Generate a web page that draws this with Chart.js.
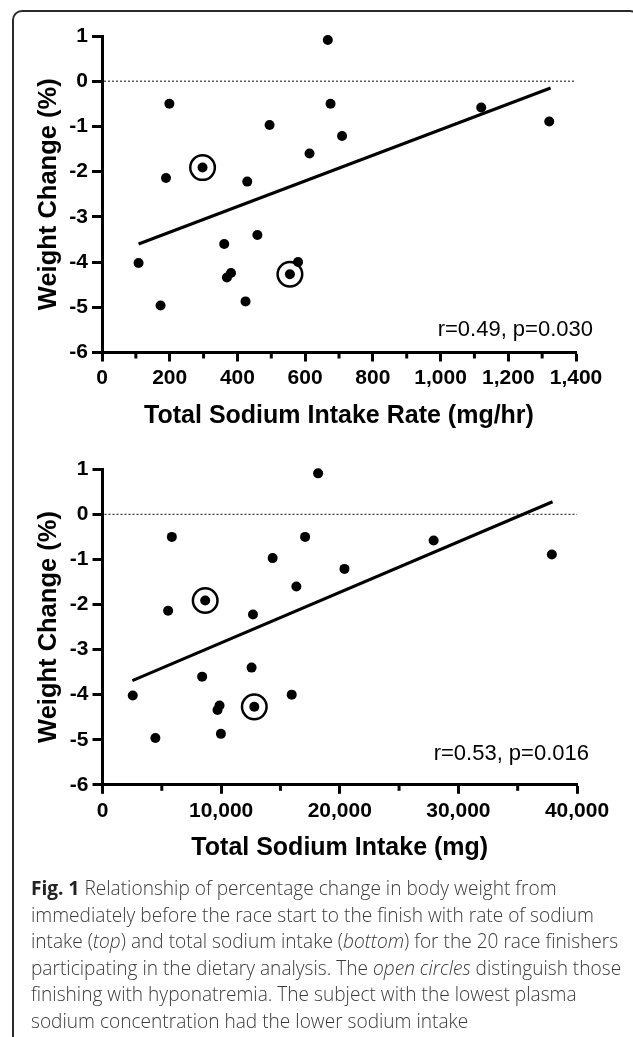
<!DOCTYPE html>
<html>
<head>
<meta charset="utf-8">
<script src="https://cdn.jsdelivr.net/npm/chart.js@4/dist/chart.umd.min.js"></script>
<style>
  html, body { margin: 0; padding: 0; background: #fff; }
  body { width: 633px; height: 1037px; position: relative; overflow: hidden; }
  #frame {
    position: absolute; left: 12px; top: 10px; width: 628px; height: 1040px;
    border: 2px solid #2a2a2a; border-radius: 10px; box-sizing: border-box;
  }
  canvas { position: absolute; left: 0; }
  #top-chart { top: 0; }
  #bottom-chart { top: 440px; }
  #caption {
    position: absolute; left: 31px; top: 875px;
    font-family: "Open Sans", sans-serif; font-weight: 300; font-size: 20px;
    line-height: 26.5px; color: #3a3a3a; white-space: nowrap; transform-origin: 0 0;
  }
  #caption b { font-weight: 700; color: #222; }
</style>
</head>
<body>
<div id="frame"></div>
<canvas id="top-chart" width="633" height="440"></canvas>
<canvas id="bottom-chart" width="633" height="440"></canvas>
<div id="caption">
  <div><b>Fig. 1</b> Relationship of percentage change in body weight from</div>
  <div id="cap-ref">immediately before the race start to the finish with rate of sodium</div>
  <div>intake (<i>top</i>) and total sodium intake (<i>bottom</i>) for the 20 race finishers</div>
  <div>participating in the dietary analysis. The <i>open circles</i> distinguish those</div>
  <div>finishing with hyponatremia. The subject with the lowest plasma</div>
  <div>sodium concentration had the lower sodium intake</div>
</div>
<script>
"use strict";

// Data ----------------------------------------------------------------------
// one entry per finisher (same order in every array)
const weightChange = [0.91, -0.5, -0.5, -0.58, -0.89, -0.97, -1.21, -1.6, -1.91, -2.14,
  -2.22, -3.4, -3.6, -4.02, -4.0, -4.24, -4.34, -4.27, -4.87, -4.96];
const sodiumRate = [667, 199, 675, 1120, 1321, 495, 709, 613, 297, 189,
  429, 459, 361, 108, 579, 381, 369, 555, 424, 173];
const sodiumTotal = [18175, 5845, 17078, 27914, 37880, 14341, 20397, 16343, 8657, 5532,
  12686, 12568, 8400, 2550, 15950, 9865, 9696, 12796, 9983, 4459];
// finishers with hyponatremia (open circles)
const hypoIdx = [8, 17];

// regression line end points
const fitRateX = [108, 1325];
const fitRateY = [-3.6, -0.15];
const fitTotalX = [2517, 37940];
const fitTotalY = [-3.69, 0.28];

const yTicks = [-6, -5, -4, -3, -2, -1, 0, 1];
const rateTicks = [0, 200, 400, 600, 800, 1000, 1200, 1400];
const totalTicks = [0, 10000, 20000, 30000, 40000];

const statsRate = "r=0.49, p=0.030";
const statsTotal = "r=0.53, p=0.016";

// Helpers -------------------------------------------------------------------
const FONT = "'Liberation Sans', Arial, Helvetica, sans-serif";
Chart.defaults.font.family = FONT;
Chart.defaults.color = "#000";

function pts(xs, ys) {
  return xs.map((x, i) => ({ x, y: ys[i] }));
}

// dotted zero line, short minor ticks, r/p text
const axisExtras = {
  id: "axisExtras",
  beforeDatasetsDraw(chart) {
    const { ctx, chartArea } = chart;
    const y0 = chart.scales.y.getPixelForValue(0);
    ctx.save();
    ctx.strokeStyle = "#444";
    ctx.lineWidth = 1.3;
    ctx.setLineDash([2, 2]);
    ctx.beginPath();
    ctx.moveTo(chartArea.left + 2, y0);
    ctx.lineTo(chartArea.right, y0);
    ctx.stroke();
    ctx.restore();
  },
  afterDraw(chart, args, opts) {
    const { ctx, chartArea } = chart;
    const xs = chart.scales.x;
    ctx.save();
    ctx.strokeStyle = "#000";
    ctx.lineWidth = 3;
    xs.ticks.forEach((t) => {
      if (opts.major.includes(t.value)) return;
      const px = xs.getPixelForValue(t.value);
      ctx.beginPath();
      ctx.moveTo(px, chartArea.bottom);
      ctx.lineTo(px, chartArea.bottom + 6);
      ctx.stroke();
    });
    ctx.font = "22px " + FONT;
    ctx.fillStyle = "#000";
    ctx.textAlign = "right";
    ctx.textBaseline = "middle";
    ctx.fillText(opts.text, chartArea.right + opts.dx, chart.scales.y.getPixelForValue(opts.textY));
    ctx.restore();
  },
};

function makeChart(el, cfg) {
  const datasets = [
    {
      data: pts(cfg.xs, weightChange), clip: false,
      backgroundColor: "#000", borderWidth: 0, pointRadius: 5, pointHoverRadius: 5,
    },
    {
      data: hypoIdx.map((i) => ({ x: cfg.xs[i], y: weightChange[i] })), clip: false,
      backgroundColor: "rgba(0,0,0,0)", borderColor: "#000", borderWidth: 2.5,
      pointRadius: 12.3, pointHoverRadius: 12.3,
    },
    {
      type: "line",
      data: pts(cfg.fitX, cfg.fitY), clip: false,
      borderColor: "#000", borderWidth: 3, pointRadius: 0, fill: false,
    },
  ];
  return new Chart(el, {
    type: "scatter",
    data: { datasets },
    plugins: [axisExtras],
    options: {
      responsive: false,
      animation: false,
      devicePixelRatio: 1,
      layout: { padding: cfg.padding },
      plugins: {
        legend: { display: false },
        tooltip: { enabled: false },
        axisExtras: { major: cfg.major, text: cfg.text, textY: cfg.textY, dx: cfg.textDx },
      },
      scales: {
        x: {
          type: "linear", min: cfg.major[0], max: cfg.major[cfg.major.length - 1],
          border: { color: "#000", width: 3 },
          grid: {
            drawOnChartArea: false, tickLength: 9, tickWidth: 3,
            tickColor: (c) => (c.tick && cfg.major.includes(c.tick.value) ? "#000" : "rgba(0,0,0,0)"),
          },
          ticks: {
            stepSize: cfg.minorStep, autoSkip: false, maxRotation: 0, padding: cfg.xTickPad,
            font: { size: 21, weight: "bold" },
            callback: (v) => (cfg.major.includes(v) ? v.toLocaleString("en-US") : ""),
          },
          title: {
            display: true, text: cfg.xTitle,
            font: { size: 25, weight: "bold" },
            padding: { top: 0, bottom: cfg.xTitlePad },
          },
          afterFit: (s) => { s.height = cfg.xHeight; },
        },
        y: {
          min: yTicks[0], max: yTicks[yTicks.length - 1],
          border: { color: "#000", width: 3 },
          grid: { drawOnChartArea: false, tickLength: 10, tickWidth: 3, tickColor: "#000" },
          ticks: { stepSize: 1, padding: 4, font: { size: 21, weight: "bold" } },
          title: {
            display: true, text: "Weight Change (%)",
            font: { size: 25.5, weight: "bold" },
            padding: { top: 34, bottom: 0 },
          },
          afterFit: (s) => { s.width = cfg.yWidth; },
        },
      },
    },
  });
}

// Charts --------------------------------------------------------------------
makeChart(document.getElementById("top-chart"), {
  xs: sodiumRate, fitX: fitRateX, fitY: fitRateY,
  major: rateTicks, minorStep: 100,
  xTitle: "Total Sodium Intake Rate (mg/hr)",
  text: statsRate, textY: -5.5, textDx: 17,
  padding: { top: 36, right: 57, left: 0, bottom: 0 },
  yWidth: 102, xHeight: 87.5, xTickPad: 4, xTitlePad: 9,
});

makeChart(document.getElementById("bottom-chart"), {
  xs: sodiumTotal, fitX: fitTotalX, fitY: fitTotalY,
  major: totalTicks, minorStep: 5000,
  xTitle: "Total Sodium Intake (mg)",
  text: statsTotal, textY: -5.31, textDx: 12,
  padding: { top: 29.3, right: 56, left: 0, bottom: 0 },
  yWidth: 102.5, xHeight: 95.2, xTickPad: 5, xTitlePad: 17,
});

// Caption: squeeze to the column width of the original
const cap = document.getElementById("caption");
const ref = document.getElementById("cap-ref");
const range = document.createRange();
range.selectNodeContents(ref);
const w = range.getBoundingClientRect().width;
cap.style.transform = `scaleX(${563 / w})`;
</script>
</body>
</html>
